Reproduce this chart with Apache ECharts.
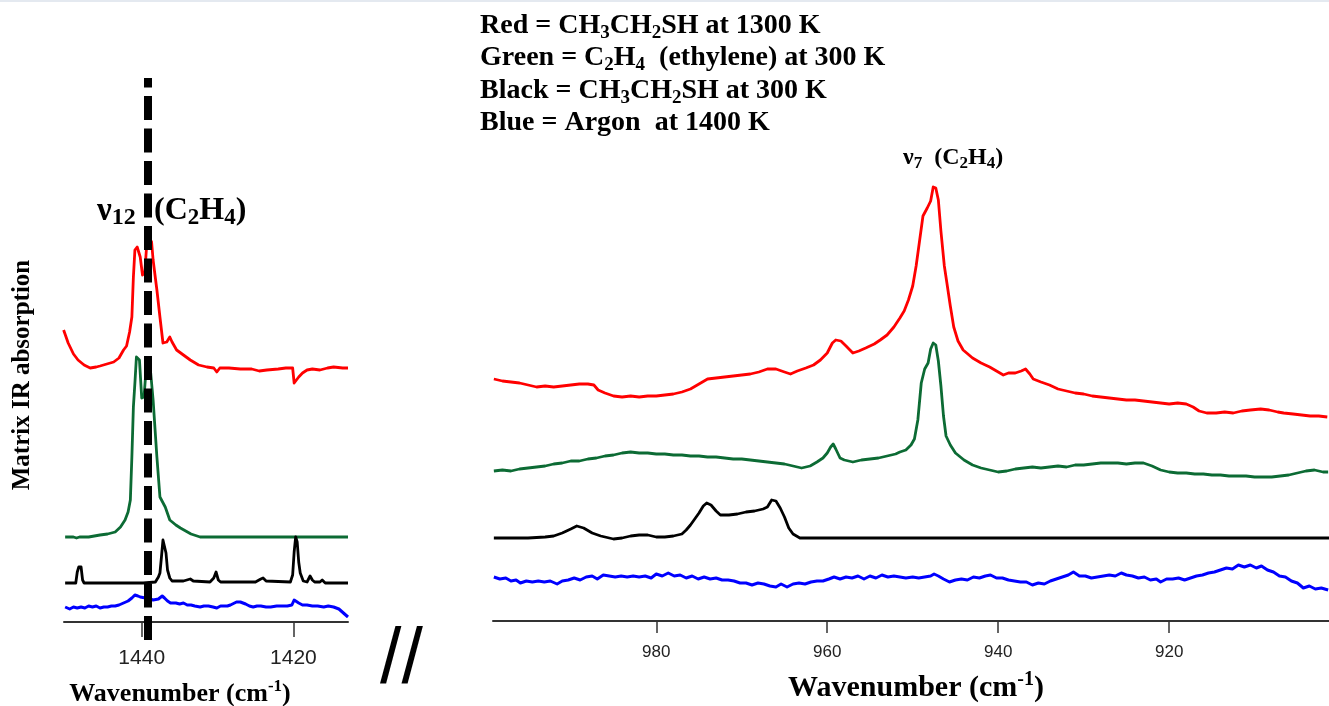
<!DOCTYPE html>
<html>
<head>
<meta charset="utf-8">
<script src="https://cdn.jsdelivr.net/npm/echarts@6/dist/echarts.min.js"></script>
<style>
html,body{margin:0;padding:0;background:#fff;}
#c{width:1329px;height:706px;}
</style>
</head>
<body>
<div id="c"></div>
<script>
// ---------- DATA ----------
// Left panel (nu12 region), x = wavenumber (cm-1), y = offset absorbance (arb.)
const leftTicks = [1440, 1420];
const rightTicks = [980, 960, 940, 920];
const refLineX = 1439.23; // dashed marker position

const leftRed = [[1450.3,2.92],[1449.7,2.79],[1449.0,2.68],[1448.4,2.62],[1447.6,2.57],[1446.8,2.54],[1446.0,2.55],[1445.5,2.56],[1444.6,2.58],[1443.7,2.60],[1443.0,2.64],[1442.4,2.72],[1442.0,2.76],[1441.6,2.90],[1441.3,3.05],[1441.1,3.45],[1440.9,3.72],[1440.6,3.75],[1440.2,3.65],[1439.9,3.47],[1439.6,3.49],[1439.3,3.82],[1439.0,3.84],[1438.7,3.80],[1438.5,3.62],[1438.0,3.32],[1437.6,3.05],[1437.2,2.79],[1436.7,2.80],[1436.3,2.85],[1436.0,2.80],[1435.4,2.72],[1434.5,2.67],[1433.6,2.62],[1432.5,2.57],[1431.4,2.55],[1430.5,2.54],[1430.1,2.50],[1429.7,2.54],[1428.5,2.54],[1427.0,2.53],[1425.5,2.53],[1424.5,2.51],[1423.5,2.52],[1422.0,2.53],[1421.0,2.54],[1420.1,2.54],[1419.9,2.39],[1419.6,2.42],[1419.3,2.45],[1418.8,2.49],[1418.2,2.52],[1417.5,2.53],[1416.5,2.52],[1415.5,2.54],[1414.7,2.55],[1413.5,2.54],[1412.8,2.54]];
const leftGreen = [[1450.1,0.85],[1449.0,0.85],[1448.6,0.84],[1448.4,0.83],[1448.2,0.85],[1447.0,0.85],[1445.5,0.87],[1444.5,0.88],[1443.5,0.90],[1442.8,0.95],[1442.2,1.02],[1441.8,1.10],[1441.5,1.22],[1441.3,1.65],[1441.1,2.15],[1440.9,2.39],[1440.7,2.65],[1440.5,2.66],[1440.3,2.62],[1440.0,2.24],[1439.7,2.25],[1439.5,2.45],[1439.3,2.55],[1438.9,2.56],[1438.7,2.55],[1438.5,2.22],[1438.0,1.65],[1437.6,1.25],[1436.9,1.15],[1436.3,1.02],[1435.5,0.97],[1434.9,0.94],[1433.5,0.88],[1432.3,0.85],[1425.0,0.85],[1420.0,0.85],[1412.8,0.85]];
const leftBlack = [[1450.1,0.39],[1448.7,0.39],[1448.5,0.50],[1448.3,0.55],[1448.0,0.55],[1447.8,0.42],[1447.6,0.39],[1444.0,0.39],[1439.8,0.39],[1438.2,0.40],[1437.8,0.45],[1437.6,0.49],[1437.4,0.65],[1437.2,0.82],[1437.0,0.84],[1436.8,0.69],[1436.6,0.52],[1436.3,0.44],[1436.0,0.41],[1434.5,0.41],[1433.6,0.43],[1433.2,0.41],[1431.0,0.40],[1430.5,0.44],[1430.2,0.50],[1429.9,0.42],[1429.6,0.40],[1425.0,0.40],[1424.3,0.43],[1424.0,0.44],[1423.6,0.41],[1420.4,0.40],[1420.1,0.47],[1419.9,0.70],[1419.7,0.85],[1419.5,0.80],[1419.3,0.60],[1419.1,0.49],[1418.7,0.41],[1418.2,0.40],[1417.8,0.46],[1417.5,0.42],[1417.2,0.40],[1416.5,0.40],[1416.2,0.42],[1415.8,0.39],[1412.8,0.39]];
const leftBlue = [[1450.1,0.15],[1449.5,0.13],[1449.0,0.15],[1448.5,0.14],[1448.0,0.15],[1447.5,0.14],[1447.0,0.16],[1446.5,0.15],[1446.0,0.16],[1445.5,0.14],[1445.0,0.15],[1444.5,0.15],[1444.0,0.16],[1443.5,0.16],[1443.0,0.17],[1442.4,0.19],[1441.8,0.21],[1441.3,0.24],[1440.9,0.27],[1440.5,0.26],[1440.2,0.25],[1439.5,0.24],[1438.9,0.23],[1438.5,0.22],[1437.8,0.23],[1437.3,0.26],[1437.0,0.24],[1436.6,0.21],[1436.2,0.19],[1435.5,0.19],[1435.0,0.18],[1434.5,0.19],[1434.0,0.17],[1433.5,0.17],[1433.0,0.16],[1432.3,0.15],[1431.8,0.16],[1431.2,0.16],[1430.6,0.15],[1430.1,0.14],[1429.6,0.16],[1429.2,0.16],[1428.7,0.16],[1428.3,0.17],[1427.5,0.20],[1427.0,0.20],[1426.3,0.18],[1425.8,0.16],[1425.3,0.15],[1424.8,0.16],[1424.3,0.16],[1423.6,0.15],[1423.0,0.15],[1422.2,0.16],[1421.5,0.16],[1420.8,0.16],[1420.2,0.17],[1419.9,0.22],[1419.7,0.24],[1419.3,0.19],[1418.8,0.17],[1418.2,0.17],[1417.5,0.16],[1416.8,0.16],[1416.0,0.15],[1415.4,0.16],[1414.7,0.15],[1414.0,0.13],[1413.4,0.09],[1412.8,0.05]];

// Right panel (nu7 region)
const rightRed = [[999.0,2.42],[998.0,2.40],[997.0,2.39],[996.0,2.38],[995.0,2.36],[994.0,2.34],[993.0,2.35],[992.0,2.34],[991.0,2.35],[990.0,2.36],[989.0,2.37],[988.0,2.37],[987.3,2.36],[986.8,2.31],[986.0,2.28],[985.0,2.25],[984.0,2.24],[983.0,2.25],[982.0,2.24],[981.0,2.25],[980.0,2.25],[979.0,2.26],[978.0,2.27],[977.0,2.29],[976.0,2.32],[975.0,2.37],[974.0,2.42],[973.0,2.43],[972.0,2.44],[971.0,2.45],[970.0,2.46],[969.0,2.47],[968.0,2.49],[967.0,2.52],[966.0,2.52],[965.0,2.49],[964.3,2.47],[963.5,2.50],[962.5,2.53],[961.6,2.56],[960.8,2.61],[960.0,2.68],[959.4,2.78],[959.0,2.81],[958.4,2.80],[957.8,2.75],[957.0,2.68],[956.3,2.70],[955.5,2.73],[954.5,2.77],[953.8,2.81],[953.0,2.86],[952.2,2.94],[951.5,3.03],[951.0,3.10],[950.5,3.21],[950.0,3.35],[949.6,3.55],[949.2,3.80],[948.8,4.05],[948.3,4.13],[947.9,4.20],[947.6,4.34],[947.3,4.33],[947.0,4.21],[946.7,3.90],[946.3,3.55],[946.0,3.38],[945.6,3.15],[945.2,2.94],[944.7,2.80],[944.1,2.71],[943.0,2.63],[942.0,2.58],[941.0,2.54],[940.0,2.49],[939.4,2.46],[938.8,2.48],[938.0,2.48],[937.3,2.50],[936.8,2.52],[936.3,2.47],[935.9,2.42],[935.0,2.39],[934.0,2.36],[933.0,2.32],[932.0,2.30],[931.0,2.28],[930.0,2.27],[929.0,2.25],[928.0,2.24],[927.0,2.23],[926.0,2.22],[925.0,2.21],[924.0,2.21],[923.0,2.20],[922.0,2.19],[921.0,2.18],[920.0,2.17],[919.0,2.18],[918.0,2.17],[917.2,2.14],[916.5,2.10],[915.6,2.08],[914.5,2.08],[913.5,2.09],[912.5,2.08],[911.5,2.10],[910.5,2.11],[909.3,2.12],[908.3,2.11],[907.3,2.09],[906.6,2.08],[905.5,2.07],[904.5,2.06],[903.5,2.05],[902.5,2.05],[901.5,2.04]];
const rightGreen = [[999,1.50],[998,1.51],[997,1.50],[996,1.52],[995,1.53],[994,1.54],[993,1.55],[992,1.57],[991,1.58],[990,1.60],[989,1.60],[988,1.62],[987,1.63],[986,1.65],[985,1.66],[984,1.68],[983,1.69],[982,1.68],[981,1.68],[980,1.67],[979,1.67],[978,1.66],[977,1.66],[976,1.65],[975,1.65],[974,1.64],[973,1.64],[972,1.63],[971,1.62],[970,1.62],[969,1.61],[968,1.60],[967,1.59],[966,1.58],[965,1.57],[964,1.55],[963,1.53],[962,1.55],[961.2,1.59],[960.5,1.63],[960,1.68],[959.6,1.74],[959.3,1.77],[959,1.72],[958.5,1.63],[958,1.61],[957,1.59],[956,1.61],[955,1.62],[954,1.63],[953,1.65],[952,1.67],[951.5,1.69],[950.8,1.71],[950.2,1.76],[949.8,1.82],[949.4,2.01],[949.0,2.38],[948.6,2.52],[948.2,2.58],[947.9,2.72],[947.6,2.78],[947.3,2.76],[947.0,2.60],[946.7,2.35],[946.4,2.05],[946.1,1.85],[945.6,1.76],[945,1.68],[944,1.61],[943,1.56],[942,1.53],[941,1.51],[940,1.49],[939,1.50],[938,1.52],[937,1.53],[936,1.54],[935,1.53],[934,1.54],[933,1.55],[932,1.54],[931,1.56],[930,1.56],[929,1.57],[928,1.58],[927,1.58],[926,1.58],[925,1.57],[924,1.58],[923,1.58],[922,1.55],[921,1.51],[920,1.49],[919,1.48],[918,1.48],[917,1.47],[916,1.47],[915,1.46],[914,1.46],[913,1.45],[912,1.45],[911,1.45],[910,1.44],[909,1.44],[908,1.44],[907,1.45],[906,1.46],[905,1.48],[904,1.50],[903,1.51],[902,1.49],[901.4,1.49]];
const rightBlack = [[999,0.83],[997,0.83],[995,0.83],[993,0.84],[992,0.85],[991,0.88],[990,0.92],[989.3,0.95],[988.5,0.93],[987.5,0.88],[986.5,0.85],[985.5,0.83],[985,0.82],[984,0.83],[983,0.85],[982,0.86],[981,0.86],[980,0.84],[979,0.84],[978,0.85],[977,0.87],[976.5,0.91],[976,0.96],[975.5,1.02],[975,1.08],[974.5,1.15],[974.1,1.18],[973.6,1.16],[973,1.10],[972.5,1.06],[971.5,1.06],[970.5,1.07],[969.5,1.09],[968.5,1.10],[967.5,1.12],[967,1.14],[966.5,1.21],[966,1.20],[965.5,1.13],[965,1.04],[964.5,0.93],[964,0.87],[963.2,0.83],[962,0.83],[960,0.83],[955,0.83],[950,0.83],[945,0.83],[940,0.83],[935,0.83],[930,0.83],[925,0.83],[920,0.83],[915,0.83],[910,0.83],[905,0.83],[901.3,0.83]];
const rightBlue = [[999,0.44],[998.3,0.42],[997.6,0.43],[997,0.40],[996.4,0.41],[995.9,0.38],[995.2,0.40],[994.5,0.39],[993.8,0.40],[993.1,0.39],[992.4,0.40],[991.6,0.37],[991,0.40],[990.3,0.41],[989.6,0.43],[988.9,0.41],[988.2,0.44],[987.5,0.45],[986.9,0.42],[986.2,0.46],[985.5,0.45],[984.8,0.44],[984.1,0.45],[983.4,0.44],[982.7,0.45],[982,0.44],[981.3,0.45],[980.6,0.43],[980,0.47],[979.3,0.45],[978.6,0.48],[977.9,0.45],[977.2,0.46],[976.5,0.43],[975.8,0.45],[975.1,0.42],[974.4,0.44],[973.7,0.42],[973,0.43],[972.3,0.41],[971.6,0.41],[970.9,0.40],[970.2,0.38],[969.5,0.38],[968.8,0.36],[968.1,0.38],[967.4,0.37],[966.7,0.35],[966,0.34],[965.4,0.37],[964.7,0.34],[964,0.37],[963.3,0.38],[962.6,0.37],[961.9,0.39],[961.2,0.40],[960.5,0.40],[959.8,0.42],[959.2,0.44],[958.5,0.42],[957.8,0.44],[957.1,0.43],[956.4,0.45],[955.7,0.42],[955,0.45],[954.3,0.43],[953.6,0.46],[952.9,0.44],[952.2,0.45],[951.5,0.44],[950.8,0.43],[950,0.44],[949.3,0.43],[948.6,0.44],[947.9,0.45],[947.5,0.47],[947,0.45],[946.4,0.42],[945.7,0.39],[945,0.41],[944.3,0.42],[943.6,0.41],[942.9,0.44],[942.2,0.43],[941.5,0.45],[940.9,0.46],[940.2,0.43],[939.5,0.43],[938.8,0.41],[938.1,0.40],[937.4,0.39],[936.7,0.39],[936,0.36],[935.3,0.38],[934.6,0.37],[933.9,0.40],[933.2,0.42],[932.5,0.44],[931.8,0.46],[931.2,0.49],[930.5,0.45],[929.8,0.45],[929.1,0.43],[928.4,0.44],[927.7,0.45],[927,0.46],[926.3,0.45],[925.6,0.48],[925,0.46],[924.3,0.45],[923.6,0.43],[922.9,0.44],[922.2,0.41],[921.5,0.42],[921,0.39],[920.3,0.42],[919.6,0.42],[918.9,0.43],[918.2,0.41],[917.5,0.43],[916.8,0.45],[916.1,0.46],[915.4,0.48],[914.7,0.49],[914,0.51],[913.3,0.53],[912.6,0.52],[911.9,0.56],[911.2,0.54],[910.5,0.56],[909.8,0.53],[909.2,0.55],[908.5,0.51],[907.8,0.49],[907.1,0.45],[906.4,0.44],[905.7,0.40],[905,0.38],[904.3,0.33],[903.6,0.35],[902.9,0.32],[902.2,0.33],[901.4,0.31]];

// ---------- STYLE ----------
const SERIF = "'Liberation Serif', 'Times New Roman', serif";
const SANS = "'Liberation Sans', Arial, sans-serif";
const RED = '#ff0000', GREEN = '#0c6b34', BLACK = '#000000', BLUE = '#0000ff';

function rich(fs, L, subFs, subL, supFs, supL) {
  return {
    n: {fontFamily: SERIF, fontWeight: 'bold', fontSize: fs, lineHeight: L, color: '#000', verticalAlign: 'middle'},
    s: {fontFamily: SERIF, fontWeight: 'bold', fontSize: subFs, lineHeight: subL, color: '#000', verticalAlign: 'bottom'},
    p: {fontFamily: SERIF, fontWeight: 'bold', fontSize: supFs || subFs, lineHeight: supL || subL, color: '#000', verticalAlign: 'top'}
  };
}
function txt(x, y, text, r, align) {
  return {
    type: 'text', x: x, y: y, silent: true, z: 100,
    style: {text: text, rich: r, align: align || 'left', verticalAlign: 'middle'}
  };
}

function lineSeries(name, data, color, xi, width) {
  return {
    name: name, type: 'line', xAxisIndex: xi, yAxisIndex: xi, data: data,
    showSymbol: false, symbol: 'none', silent: true, animation: false,
    lineStyle: {color: color, width: width || 2.8, join: 'round'},
    emphasis: {disabled: true}
  };
}
const plain = v => String(v);

const legendRich = rich(28, 34, 19, 18);
const chart = echarts.init(document.getElementById('c'), null, {renderer: 'canvas'});
const option = {
  animation: false,
  backgroundColor: '#ffffff',
  grid: [
    {left: 64, right: 981, top: 78, bottom: 66},
    {left: 493, right: 0, top: 151, bottom: 85}
  ],
  xAxis: [
    {
      gridIndex: 0, type: 'value', min: 1412.8, max: 1450.25, inverse: true,
      axisLine: {onZero: true, lineStyle: {color: '#333', width: 2}},
      axisTick: {customValues: leftTicks, length: 15, lineStyle: {color: '#333', width: 1.5}},
      axisLabel: {customValues: leftTicks, formatter: plain, margin: 8, fontSize: 21, color: '#222', fontFamily: SANS},
      splitLine: {show: false}
    },
    {
      gridIndex: 1, type: 'value', min: 901.3, max: 999.1, inverse: true,
      axisLine: {onZero: false, lineStyle: {color: '#333', width: 2}},
      axisTick: {customValues: rightTicks, length: 12, lineStyle: {color: '#333', width: 1.5}},
      axisLabel: {customValues: rightTicks, formatter: plain, margin: 23, fontSize: 17, color: '#222', fontFamily: SANS},
      splitLine: {show: false}
    }
  ],
  yAxis: [
    {gridIndex: 0, type: 'value', min: -0.18, max: 5.44, show: false, splitLine: {show: false}},
    {gridIndex: 1, type: 'value', min: 0, max: 4.7, show: false, splitLine: {show: false}}
  ],
  series: [
    lineSeries('Red left', leftRed, RED, 0),
    lineSeries('Green left', leftGreen, GREEN, 0),
    lineSeries('Black left', leftBlack, BLACK, 0),
    Object.assign(lineSeries('Blue left', leftBlue, BLUE, 0, 3), {
      markLine: {
        silent: true, animation: false, symbol: ['none', 'none'], label: {show: false},
        lineStyle: {color: '#000', width: 8, type: [24, 8.5], opacity: 1},
        emphasis: {disabled: true},
        data: [{xAxis: refLineX}]
      }
    }),
    lineSeries('Red right', rightRed, RED, 1),
    lineSeries('Green right', rightGreen, GREEN, 1),
    lineSeries('Black right', rightBlack, BLACK, 1),
    lineSeries('Blue right', rightBlue, BLUE, 1, 3)
  ],
  graphic: [
    {type: 'rect', shape: {x: 0, y: 0, width: 1329, height: 2}, style: {fill: '#e4e9f0'}, silent: true},
    txt(480, 25.5, '{n|Red = CH}{s|3}{n|CH}{s|2}{n|SH at 1300 K}', legendRich),
    txt(480, 58, '{n|Green = C}{s|2}{n|H}{s|4}{n|  (ethylene) at 300 K}', legendRich),
    txt(480, 90.5, '{n|Black = CH}{s|3}{n|CH}{s|2}{n|SH at 300 K}', legendRich),
    txt(480, 123, '{n|Blue = Argon  at 1400 K}', legendRich),
    // nu12 label (split around the dashed marker)
    txt(97, 211, '{n|ν}{s|12}', rich(33, 38, 24, 22)),
    txt(154, 211, '{n|(C}{s|2}{n|H}{s|4}{n|)}', rich(32, 38, 23, 22)),
    // nu7 label
    txt(903, 158, '{n|ν}{s|7}{n|  (C}{s|2}{n|H}{s|4}{n|)}', rich(24, 28, 17, 16)),
    // y axis title
    {
      type: 'text', x: 23, y: 375, rotation: Math.PI / 2, silent: true, z: 100,
      style: {text: 'Matrix IR absorption', font: 'bold 25px ' + SERIF, fill: '#000', align: 'center', verticalAlign: 'middle'}
    },
    // x axis titles
    txt(180, 694, '{n|Wavenumber (cm}{p|-1}{n|)}', rich(26, 32, 17, 14, 17, 14), 'center'),
    txt(916, 688, '{n|Wavenumber (cm}{p|-1}{n|)}', rich(30, 36, 20, 16, 20, 16), 'center'),
    // axis break symbol
    {
      type: 'text', x: 380, y: 662, silent: true, z: 100,
      style: {text: '//', font: '77px ' + SANS, fill: '#000', align: 'left', verticalAlign: 'middle'}
    }
  ]
};
chart.setOption(option);
</script>
</body>
</html>
